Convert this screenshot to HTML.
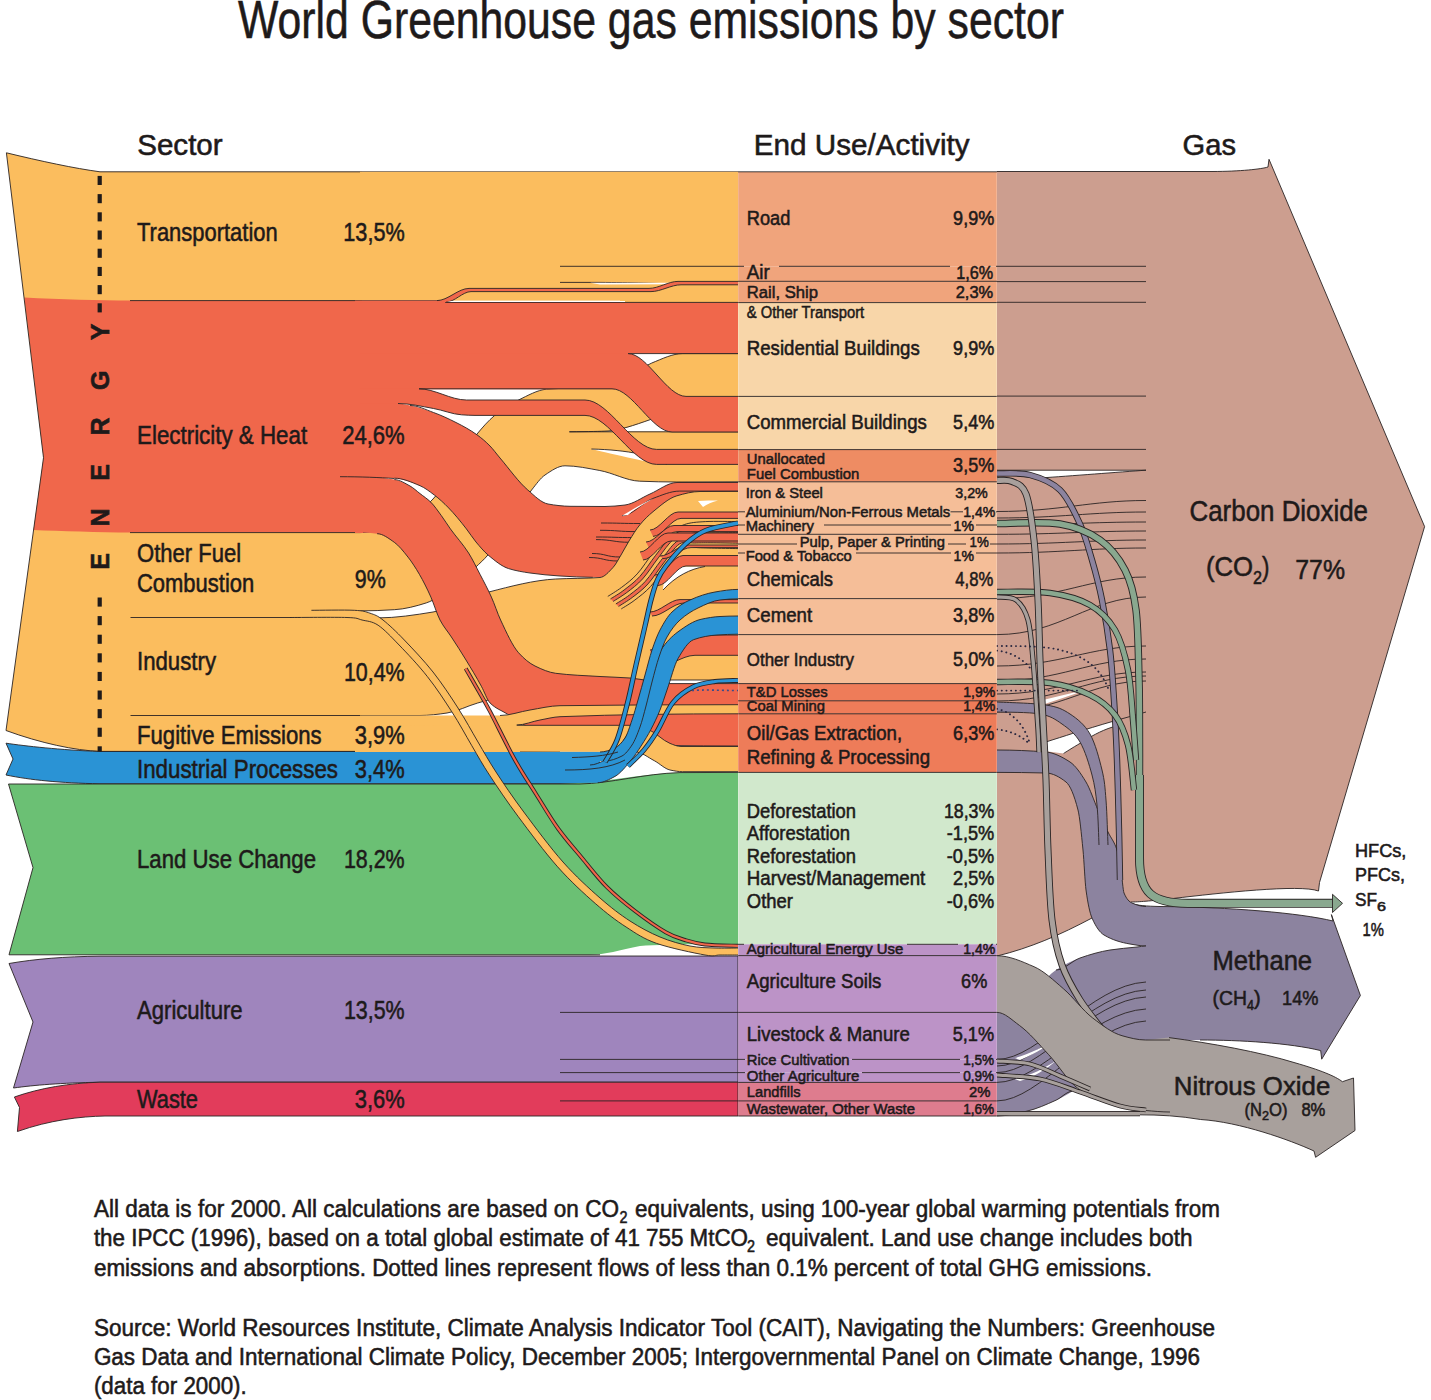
<!DOCTYPE html>
<html><head><meta charset="utf-8"><title>World Greenhouse gas emissions by sector</title>
<style>
html,body{margin:0;padding:0;background:#fff;}
body{width:1431px;height:1400px;overflow:hidden;}
svg{display:block;}
text{font-family:"Liberation Sans",sans-serif;fill:#1e1a1a;stroke:#1e1a1a;stroke-width:0.55px;}
</style></head><body>
<svg width="1431" height="1400" viewBox="0 0 1431 1400">
<rect width="1431" height="1400" fill="#fff"/>
<path d="M997,171.5 L1212,171.5 C1240,171.5 1262,169 1268,167 L1269,159.3 L1424.6,526.6 L1319.5,882.5 L1318.5,891 C1300,884 1220,893 1173,898.5 C1150,901 1138,902 1131,902 L1092,918 C1060,935 1030,948 997,956 Z" fill="#CC9E8F" stroke="#2a2424" stroke-width="0" />
<path d="M997,171.5 L1212,171.5 C1240,171.5 1262,169 1268,167 L1269,159.3 L1424.6,526.6 L1319.5,882.5 L1318.5,891 C1300,884 1220,893 1173,898.5 C1150,901 1138,902 1131,902" fill="none" stroke="#2a2424" stroke-width="0.9" />
<path d="M1092,918 C1060,935 1030,948 997,956" fill="none" stroke="#2a2424" stroke-width="0.9" />
<path d="M1122,896 C1126,903 1132,906 1160,906.5 C1230,907 1300,913 1333,921 L1331.4,914.6 L1360.4,995.5 L1321.7,1059.2 L1320.7,1050.6 C1290,1043 1240,1040 1200,1040 L1146,1040 L1146,946 Z" fill="#8C839F" stroke="#2a2424" stroke-width="0" />
<path d="M1122,896 C1126,903 1132,906 1160,906.5 C1230,907 1300,913 1333,921 L1331.4,914.6 L1360.4,995.5 L1321.7,1059.2 L1320.7,1050.6 C1290,1043 1240,1040 1200,1040" fill="none" stroke="#2a2424" stroke-width="0.9" />
<path d="M1146,1040 L1169,1037.6 C1210,1043 1260,1052 1295,1062.8 C1320,1070 1335,1076 1342.4,1081.7 L1353.5,1078 L1355,1130.5 L1315.6,1157.3 L1314,1151 C1290,1140 1240,1122 1200.6,1119.5 C1180,1116 1160,1114.8 1137.6,1114.8 L1130,1110 Z" fill="#A8A09C" stroke="#2a2424" stroke-width="0" />
<path d="M1169,1037.6 C1210,1043 1260,1052 1295,1062.8 C1320,1070 1335,1076 1342.4,1081.7 L1353.5,1078 L1355,1130.5 L1315.6,1157.3 L1314,1151 C1290,1140 1240,1122 1200.6,1119.5 C1180,1116 1160,1114.8 1137.6,1114.8" fill="none" stroke="#2a2424" stroke-width="0.9" />
<path d="M6.4,152.8 C40,161 75,168.5 100,171.8 L362,171.8 L362,751.4 L100,751.4 C75,750.5 40,743 6,730.5 L43.5,457.7 Z" fill="#FBBD5E" stroke="#2a2424" stroke-width="0" />
<path d="M24.3,297.5 C60,299.5 100,300.5 130,300.6 L362,300.6 L362,532.6 L130,532.6 C100,532.4 60,531 33.5,530 L43.5,457.7 Z" fill="#F0674B" stroke="#2a2424" stroke-width="0" />
<path d="M6,730.5 L43.5,457.7 L6.4,152.8 C40,161 75,168.5 100,171.8 L738,171.8" fill="none" stroke="#2a2424" stroke-width="0.9" />
<path d="M6,730.5 C40,743 75,750.5 100,751.4 L360,751.4" fill="none" stroke="#2a2424" stroke-width="0.9" />
<rect x="360" y="171.8" width="378.2" height="128.8" fill="#FBBD5E"/>
<path d="M130,300.6 L440,300.6" fill="none" stroke="#2a2424" stroke-width="0.9" />
<path d="M560,266.3 L738,266.3" fill="none" stroke="#2a2424" stroke-width="0.9" />
<path d="M560,282.4 L600,282.4 C630,282.6 660,283.5 676,284" fill="none" stroke="#2a2424" stroke-width="0.9" />
<path d="M590,282.7 L672,282.7 L676,284.3 L600,284.6 Z" fill="#fff"/>
<path d="M130,532.6 L360,532.6" fill="none" stroke="#2a2424" stroke-width="0.9" />
<path d="M130.5,617.5 L300,617.5" fill="none" stroke="#2a2424" stroke-width="0.9" />
<path d="M130.5,715.5 L360,715.5" fill="none" stroke="#2a2424" stroke-width="0.9" />
<path d="M6,743.2 C25,746 60,750 100,751.5 L600,751.5 L600,783.8 L100,783.8 C60,783 30,780 6,775 L13,759 Z" fill="#2A93D5" stroke="#2a2424" stroke-width="0" />
<path d="M6,775 L13,759 L6,743.2 C25,746 60,750 100,751.5 L560,751.5" fill="none" stroke="#2a2424" stroke-width="0.9" />
<path d="M6,775 C30,780 60,783 100,783.8 L590,783.8" fill="none" stroke="#2a2424" stroke-width="0.9" />
<path d="M8.5,784 L560,784 C600,783.5 640,774 680,772.6 L738,772.4 L738,944.3 C700,944 660,944 640,946 C620,950 605,954.8 590,954.8 L9,954.8 L33,867.6 Z" fill="#6BC074" stroke="#2a2424" stroke-width="0" />
<path d="M9,954.8 L33,867.6 L8.5,784 L580,784 C610,783.5 645,773.5 680,772.6 L738,772.4" fill="none" stroke="#2a2424" stroke-width="0.9" />
<path d="M9,954.8 L600,954.8" fill="none" stroke="#2a2424" stroke-width="0.9" />
<path d="M9,963.5 C35,959 65,956.5 100,956.2 L738,956 L738,1082.2 L100,1082.2 C60,1083 35,1085 13.5,1088 L33,1022 Z" fill="#9F85BD" stroke="#2a2424" stroke-width="0.9" />
<path d="M560,1012.4 L738,1012.4" fill="none" stroke="#2a2424" stroke-width="0.9" />
<path d="M560,1059.4 L738,1059.4" fill="none" stroke="#2a2424" stroke-width="0.9" />
<path d="M560,1072.6 L738,1072.6" fill="none" stroke="#2a2424" stroke-width="0.9" />
<path d="M14.4,1097 C40,1088 70,1083 100,1082.2 L738,1082.2 L738,1116 L105,1116 C80,1116.5 50,1120 17.4,1131.5 L19.5,1107.5 Z" fill="#E23C5B" stroke="#2a2424" stroke-width="0.9" />
<path d="M560,1100.9 L738,1100.9" fill="none" stroke="#2a2424" stroke-width="0.9" />
<path d="M360,532.6C373.3,532.6 386.7,528.5 400,524C411,520.2 422,510.3 433,499C440.3,491.5 447.7,476.8 455,466C462.3,455.3 469.5,443.1 476.8,434.3C482.7,427.2 488.5,420.5 494.4,415.7C502.5,409.1 510.5,403.9 518.6,400C527.9,395.5 537.1,390.1 546.4,389.2C557.6,388.2 568.8,388.2 580,387.5C591.7,386.8 603.3,386.5 615,385C627.3,383.4 639.5,367.9 651.8,363C662.1,358.9 672.4,353.6 682.7,353.6L738,353.6L738,481.8C717.6,481.8 697.3,482 676.9,482C664.5,482 652.1,481.7 639.7,481.2C626.4,480.7 613.1,472.9 599.8,470.5C588.2,468.4 576.6,465.8 565,465.8C558.3,465.8 551.7,470.5 545,475C540.5,478 536.1,484.4 531.6,490C524.4,499.1 517.2,511.3 510,522C502.7,532.9 495.3,546.3 488,554.9C483.8,559.8 479.6,563.5 475.4,567.4C468.6,573.7 461.8,580 455,585C445.4,592 435.9,599.8 426.3,602.9C415.6,606.3 405,609.1 394.3,609.7C382.9,610.4 371.4,610.9 360,610.9Z" fill="#FBBD5E" stroke="none"/>
<path d="M360,532.6C373.3,532.6 386.7,528.5 400,524C411,520.2 422,510.3 433,499C440.3,491.5 447.7,476.8 455,466C462.3,455.3 469.5,443.1 476.8,434.3C482.7,427.2 488.5,420.5 494.4,415.7C502.5,409.1 510.5,403.9 518.6,400C527.9,395.5 537.1,390.1 546.4,389.2C557.6,388.2 568.8,388.2 580,387.5C591.7,386.8 603.3,386.5 615,385C627.3,383.4 639.5,367.9 651.8,363C662.1,358.9 672.4,353.6 682.7,353.6L738,353.6" fill="none" stroke="#2a2424" stroke-width="0.9" />
<path d="M360,610.9C371.4,610.9 382.9,610.4 394.3,609.7C405,609.1 415.6,606.3 426.3,602.9C435.9,599.8 445.4,592 455,585C461.8,580 468.6,573.7 475.4,567.4C479.6,563.5 483.8,559.8 488,554.9C495.3,546.3 502.7,532.9 510,522C517.2,511.3 524.4,499.1 531.6,490C536.1,484.4 540.5,478 545,475C551.7,470.5 558.3,465.8 565,465.8C576.6,465.8 588.2,468.4 599.8,470.5C613.1,472.9 626.4,480.7 639.7,481.2C652.1,481.7 664.5,482 676.9,482C697.3,482 717.6,481.8 738,481.8" fill="none" stroke="#2a2424" stroke-width="0.9" />
<path d="M600,431.6 C615,431.2 632,427 652,419 L700,419 L700,431.6 Z" fill="#fff"/>
<path d="M569.4,431.8 L738,431.8" fill="none" stroke="#2a2424" stroke-width="0.9" />
<path d="M569.4,431.8 C590,431.6 600,431.4 608,431 C620,430 632,426 652,419" fill="none" stroke="#2a2424" stroke-width="0.9" />
<path d="M591.4,449 C610,449.5 625,451 640,454 C650,456 660,462 667,464.3 C650,463 630,458 591.4,449 Z" fill="#fff"/>
<path d="M591.4,449 C610,449.5 625,451 640,454 C650,456 660,462 667,464.3" fill="none" stroke="#2a2424" stroke-width="0.9" />
<rect x="355" y="300.6" width="90" height="3" fill="#F0674B"/>
<rect x="355" y="302" width="273" height="87.3" fill="#F0674B"/>
<rect x="355" y="388" width="44" height="90" fill="#F0674B"/>
<rect x="355" y="470" width="8" height="63" fill="#F0674B"/>
<path d="M360,403.5L398,403.5C402,403.5 406,404.7 410,405.5C417.8,407.1 425.7,409.7 433.5,412.5C441,415.2 448.5,418.7 456,422.5C463,426 470,429.8 477,434.8C481.3,437.9 485.7,441.6 490,446C493.3,449.4 496.7,454.1 500,458C509.3,468.9 518.5,482.1 527.8,490C534.5,495.8 541.3,502.8 548,504C555.3,505.3 562.7,506.2 570,506.3C581.7,506.4 593.3,506.5 605,506.5C611.7,506.5 618.3,505.8 625,505C633.3,504 641.7,497.6 650,494C659,490.1 668,482.5 677,482.5L738,482.5L738,578L640,578C624.3,578 608.5,577.6 592.8,577.3C581.9,577.1 570.9,576.6 560,576C550,575.4 540,574.4 530,573C522.9,572 515.7,570.8 508.6,568.6C501.7,566.4 494.9,560.7 488,554.9C484,551.5 480,546.8 476,542C472.8,538.1 469.6,533 466.4,528.9C460.5,521.3 454.5,513.9 448.6,507.9C443.8,503 439.1,498.6 434.3,495C429.5,491.4 424.8,487.7 420,485.7C411.4,482.1 402.9,478.9 394.3,478.2C382.9,477.2 371.4,476.6 360,476.6Z" fill="#F0674B" stroke="none"/>
<path d="M410,405.5C417.8,405.5 425.7,409.7 433.5,412.5C441,415.2 448.5,418.7 456,422.5C463,426 470,429.8 477,434.8C481.3,437.9 485.7,441.6 490,446C493.3,449.4 496.7,454.1 500,458C509.3,468.9 518.5,482.1 527.8,490C534.5,495.8 541.3,502.8 548,504C555.3,505.3 562.7,506.2 570,506.3C581.7,506.4 593.3,506.5 605,506.5C611.7,506.5 618.3,505.8 625,505C633.3,504 641.7,497.6 650,494C659,490.1 668,482.5 677,482.5L738,482.5" fill="none" stroke="#2a2424" stroke-width="0.9" />
<path d="M394.3,478.2C402.9,478.2 411.4,482.1 420,485.7C424.8,487.7 429.5,491.4 434.3,495C439.1,498.6 443.8,503 448.6,507.9C454.5,513.9 460.5,521.3 466.4,528.9C469.6,533 472.8,538.1 476,542C480,546.8 484,551.5 488,554.9C494.9,560.7 501.7,566.4 508.6,568.6C515.7,570.8 522.9,572 530,573C540,574.4 550,575.4 560,576C570.9,576.6 581.9,577.3 592.8,577.3" fill="none" stroke="#2a2424" stroke-width="0.9" />
<path d="M622,515.7C632.3,515.7 642.7,502.2 653,498.4C661.8,495.2 670.7,491.1 679.5,491.1L738,491.1" fill="none" stroke="#2a2424" stroke-width="0.9" />
<path d="M622,515.7 C635,508 645,502 653,498.4 C640,506 632,511 628,515 Z" fill="#fff"/>
<path d="M601,523 C620.5,523 620.5,523.5 640,523.5" fill="none" stroke="#2a2424" stroke-width="0.9" />
<path d="M600,530.3 C618.0,530.3 618.0,531.6 636,531.6" fill="none" stroke="#2a2424" stroke-width="0.9" />
<path d="M596,537 C615.0,537 615.0,537.6 634,537.6" fill="none" stroke="#2a2424" stroke-width="0.9" />
<path d="M596,539.6 C613.0,539.6 613.0,542.3 630,542.3" fill="none" stroke="#2a2424" stroke-width="0.9" />
<path d="M592,553.5 C606.0,553.5 606.0,557 620,557" fill="none" stroke="#2a2424" stroke-width="0.9" />
<path d="M589,557.5 C603.5,557.5 603.5,561 618,561" fill="none" stroke="#2a2424" stroke-width="0.9" />
<path d="M360,617.5C366,617.5 372,617.9 378,617.9C396.3,617.9 414.7,615 433,612C451.6,608.9 470.2,596.7 488.8,592C511.1,586.3 533.4,580.2 555.7,579C570.5,578.2 585.2,578.6 600,577.5C604.3,577.2 608.7,572.1 613,567.5C615.7,564.7 618.3,559.4 621,555C623.7,550.6 626.3,545.3 629,541C632.6,535.2 636.1,529.3 639.7,525C644.1,519.6 648.6,515.3 653,511.7C661,505.2 668.9,498.1 676.9,495.8C684.6,493.6 692.3,491.5 700,491.5C712.7,491.4 725.3,491.4 738,491.4L738,680L650,680C633.3,680 616.7,681 600,682C576.7,683.3 553.3,686.3 530,690C512.6,692.8 495.1,698 477.7,703C467.5,705.9 457.2,711.5 447,713C438,714.3 429,715.5 420,715.5L360,715.5Z" fill="#FBBD5E" stroke="none"/>
<path d="M378,617.9C396.3,617.9 414.7,615 433,612C451.6,608.9 470.2,596.7 488.8,592C511.1,586.3 533.4,580.2 555.7,579C570.5,578.2 585.2,578.6 600,577.5C604.3,577.2 608.7,572.1 613,567.5C615.7,564.7 618.3,559.4 621,555C623.7,550.6 626.3,545.3 629,541C632.6,535.2 636.1,529.3 639.7,525C644.1,519.6 648.6,515.3 653,511.7C661,505.2 668.9,498.1 676.9,495.8C684.6,493.6 692.3,491.5 700,491.5C712.7,491.4 725.3,491.4 738,491.4" fill="none" stroke="#2a2424" stroke-width="0.9" />
<path d="M360,715.5L420,715.5C429,715.5 438,714.3 447,713C457.2,711.5 467.5,705.9 477.7,703C495.1,698 512.6,692.8 530,690C553.3,686.3 576.7,683.3 600,682C616.7,681 633.3,680 650,680L738,680" fill="none" stroke="#2a2424" stroke-width="0.9" />
<path d="M610.5,598.9C612.8,597.4 619.2,593.8 624.1,590C629,586.2 634.7,582.2 639.9,576.4C645.2,570.6 650.4,562 655.6,555.4C660.8,548.8 666.1,540.9 671.3,536.5C676.5,532.1 681,530.8 686.9,529.2C692.8,527.6 698,527.3 706.5,526.9C715,526.5 732.8,527 738,527L738,532.4C733,532.4 715.8,532 707.7,532.2C699.6,532.4 695.1,532.7 689.5,533.8C683.9,534.9 679.2,535 674,539C668.8,543 663.5,551.2 658.3,557.9C653.1,564.5 647.9,573.1 642.6,578.9C637.4,584.7 631.7,588.8 626.8,592.5C621.9,596.2 615.5,599.9 613.2,601.4Z" fill="#F0674B"/>
<path d="M615.9,603.9C618.2,602.4 624.6,598.8 629.5,595C634.4,591.2 640.1,587.2 645.3,581.4C650.6,575.6 655.8,567 661,560.4C666.2,553.8 671.5,545.2 676.7,541.5C681.9,537.8 686.7,539.1 692.1,538.4C697.5,537.7 701.2,537.6 708.9,537.5C716.5,537.4 733.1,537.8 738,537.8L738,543.2C733.4,543.1 717.3,542.8 710.1,542.8C702.9,542.8 699.8,542.8 694.7,543C689.6,543.2 684.6,540.7 679.4,544C674.2,547.3 668.9,556.2 663.7,562.9C658.5,569.5 653.2,578.1 648,583.9C642.8,589.7 637.1,593.8 632.2,597.5C627.3,601.2 620.9,604.9 618.6,606.4Z" fill="#F0674B"/>
<path d="M607.8,596.4C610.1,594.9 616.5,591.2 621.4,587.5C626.3,583.8 632,579.7 637.2,573.9C642.5,568.1 647.7,559.5 652.9,552.9C658.1,546.2 663.4,538.7 668.6,534C673.8,529.3 678.2,526.7 684.3,524.6C690.4,522.5 696.3,522.1 705.3,521.6C714.2,521.1 732.5,521.6 738,521.6" fill="none" stroke="#2a2424" stroke-width="0.9" />
<path d="M610.5,598.9C612.8,597.4 619.2,593.8 624.1,590C629,586.2 634.7,582.2 639.9,576.4C645.2,570.6 650.4,562 655.6,555.4C660.8,548.8 666.1,540.9 671.3,536.5C676.5,532.1 681,530.8 686.9,529.2C692.8,527.6 698,527.3 706.5,526.9C715,526.5 732.8,527 738,527" fill="none" stroke="#2a2424" stroke-width="0.9" />
<path d="M613.2,601.4C615.5,599.9 621.9,596.2 626.8,592.5C631.7,588.8 637.4,584.7 642.6,578.9C647.9,573.1 653.1,564.5 658.3,557.9C663.5,551.2 668.8,543 674,539C679.2,535 683.9,534.9 689.5,533.8C695.1,532.7 699.6,532.4 707.7,532.2C715.8,532 733,532.4 738,532.4" fill="none" stroke="#2a2424" stroke-width="0.9" />
<path d="M615.9,603.9C618.2,602.4 624.6,598.8 629.5,595C634.4,591.2 640.1,587.2 645.3,581.4C650.6,575.6 655.8,567 661,560.4C666.2,553.8 671.5,545.2 676.7,541.5C681.9,537.8 686.7,539.1 692.1,538.4C697.5,537.7 701.2,537.6 708.9,537.5C716.5,537.4 733.1,537.8 738,537.8" fill="none" stroke="#2a2424" stroke-width="0.9" />
<path d="M618.6,606.4C620.9,604.9 627.3,601.2 632.2,597.5C637.1,593.8 642.8,589.7 648,583.9C653.2,578.1 658.5,569.5 663.7,562.9C668.9,556.2 674.2,547.3 679.4,544C684.6,540.7 689.6,543.2 694.7,543C699.8,542.8 702.9,542.8 710.1,542.8C717.3,542.8 733.4,543.1 738,543.2" fill="none" stroke="#2a2424" stroke-width="0.9" />
<path d="M621.3,608.9C623.6,607.4 630,603.8 634.9,600C639.8,596.2 645.5,592.2 650.7,586.4C656,580.6 661.2,572 666.4,565.4C671.6,558.8 677,549.5 682.1,546.5C687.2,543.5 692.4,547.3 697.3,547.6C702.2,547.9 704.5,547.9 711.3,548.1C718.1,548.3 733.5,548.5 738,548.6" fill="none" stroke="#2a2424" stroke-width="0.9" />
<path d="M668,566.8 L705,566.5 C690,569 676,576 663,590 C664,580 666,572 668,566.8 Z" fill="#fff"/>
<path d="M705,566.5 C690,569 676,576 663,590" fill="none" stroke="#2a2424" stroke-width="0.9" />
<path d="M698,501 C705,500.5 712,500.5 718,500.5 C712,502 707,504 703,507 Z" fill="#fff"/>
<path d="M650,530C659.3,530 668.7,512 678,512L738,512L738,518.4L681,518.4C671.7,518.4 662.3,536.4 653,536.4Z" fill="#F0674B" stroke="none"/>
<path d="M650,530C659.3,530 668.7,512 678,512L738,512" fill="none" stroke="#2a2424" stroke-width="0.9" />
<path d="M653,536.4C662.3,536.4 671.7,518.4 681,518.4L738,518.4" fill="none" stroke="#2a2424" stroke-width="0.9" />
<path d="M646,542C655.3,542 664.7,525.5 674,525.5L738,525.5L738,531.6L677,531.6C667.7,531.6 658.3,548.1 649,548.1Z" fill="#F0674B" stroke="none"/>
<path d="M646,542C655.3,542 664.7,525.5 674,525.5L738,525.5" fill="none" stroke="#2a2424" stroke-width="0.9" />
<path d="M649,548.1C658.3,548.1 667.7,531.6 677,531.6L738,531.6" fill="none" stroke="#2a2424" stroke-width="0.9" />
<path d="M640,552C649.3,552 658.7,533 668,533L738,533L738,541L671,541C661.7,541 652.3,560 643,560Z" fill="#F0674B" stroke="none"/>
<path d="M640,552C649.3,552 658.7,533 668,533L738,533" fill="none" stroke="#2a2424" stroke-width="0.9" />
<path d="M643,560C652.3,560 661.7,541 671,541L738,541" fill="none" stroke="#2a2424" stroke-width="0.9" />
<path d="M660,556C669.3,556 678.7,545 688,545L738,545L738,547.6L691,547.6C681.7,547.6 672.3,558.6 663,558.6Z" fill="#F0674B" stroke="none"/>
<path d="M660,556C669.3,556 678.7,545 688,545L738,545" fill="none" stroke="#2a2424" stroke-width="0.9" />
<path d="M663,558.6C672.3,558.6 681.7,547.6 691,547.6L738,547.6" fill="none" stroke="#2a2424" stroke-width="0.9" />
<path d="M655,575C664.3,575 673.7,555.5 683,555.5L738,555.5L738,566L686,566C676.7,566 667.3,585.5 658,585.5Z" fill="#F0674B" stroke="none"/>
<path d="M655,575C664.3,575 673.7,555.5 683,555.5L738,555.5" fill="none" stroke="#2a2424" stroke-width="0.9" />
<path d="M658,585.5C667.3,585.5 676.7,566 686,566L738,566" fill="none" stroke="#2a2424" stroke-width="0.9" />
<path d="M650,612C660,612 670,599.6 680,599.6L738,599.6L738,603L684,603C673.3,603 662.7,616 652,616Z" fill="#F0674B" stroke="none"/>
<path d="M650,612C660,612 670,599.6 680,599.6L738,599.6" fill="none" stroke="#2a2424" stroke-width="0.9" />
<path d="M652,616C662.7,616 673.3,603 684,603L738,603" fill="none" stroke="#2a2424" stroke-width="0.9" />
<path d="M650,650C663.3,650 676.7,635 690,635L738,635L738,655.3L695,655.3C681.7,655.3 668.3,668 655,668Z" fill="#F0674B" stroke="none"/>
<path d="M650,650C663.3,650 676.7,635 690,635L738,635" fill="none" stroke="#2a2424" stroke-width="0.9" />
<path d="M655,668C668.3,668 681.7,655.3 695,655.3L738,655.3" fill="none" stroke="#2a2424" stroke-width="0.9" />
<path d="M360,476.6C371.4,476.6 382.9,477.8 394.3,479.6C399.5,480.4 404.8,483.2 410,486C413.3,487.8 416.7,491 420,493.6C423.6,496.4 427.1,498.6 430.7,502.1C434.3,505.6 437.8,510.8 441.4,515.7C444.4,519.8 447.4,524.7 450.4,528.9C456.5,537.4 462.5,543.5 468.6,553C472.4,559 476.2,567 480,574.3C483.8,581.6 487.6,588.6 491.4,597.1C494.5,603.9 497.5,613.4 500.6,620C506.6,632.8 512.6,646.1 518.6,652.8C524.1,658.9 529.5,663.3 535,666C541.9,669.4 548.8,672.4 555.7,673.3C570.5,675.2 585.2,675.6 600,676.5C610,677.1 620,677.3 630,678C643.3,679 656.7,683.6 670,683.6L738,683.6L738,746C692,746 646,745.4 600,744C586.7,743.6 573.3,740.8 560,738C550,735.9 540,732.4 530,728C522.5,724.7 514.9,718.8 507.4,714.1C501.6,710.4 495.8,708.8 490,702.9C487.1,700 484.3,691.5 481.4,686.3C476.3,676.9 471.1,668.4 466,660C461.1,652 456.3,644.4 451.4,637C447.6,631.2 443.8,627.2 440,620C437,614.3 433.9,603.9 430.9,597.1C427.1,588.6 423.2,580.9 419.4,574.3C415.6,567.8 411.8,561.9 408,557.1C403.4,551.3 398.9,545.5 394.3,542.3C388.6,538.3 382.8,534.4 377.1,533.7C371.4,533.1 365.7,532.6 360,532.6Z" fill="#F0674B" stroke="none"/>
<path d="M394.3,479.6C399.5,479.6 404.8,483.2 410,486C413.3,487.8 416.7,491 420,493.6C423.6,496.4 427.1,498.6 430.7,502.1C434.3,505.6 437.8,510.8 441.4,515.7C444.4,519.8 447.4,524.7 450.4,528.9C456.5,537.4 462.5,543.5 468.6,553C472.4,559 476.2,567 480,574.3C483.8,581.6 487.6,588.6 491.4,597.1C494.5,603.9 497.5,613.4 500.6,620C506.6,632.8 512.6,646.1 518.6,652.8C524.1,658.9 529.5,663.3 535,666C541.9,669.4 548.8,672.4 555.7,673.3C570.5,675.2 585.2,675.6 600,676.5C610,677.1 620,677.3 630,678C643.3,679 656.7,683.6 670,683.6L738,683.6" fill="none" stroke="#2a2424" stroke-width="0.9" />
<path d="M377.1,533.7C382.8,533.7 388.6,538.3 394.3,542.3C398.9,545.5 403.4,551.3 408,557.1C411.8,561.9 415.6,567.8 419.4,574.3C423.2,580.9 427.1,588.6 430.9,597.1C433.9,603.9 437,614.3 440,620C443.8,627.2 447.6,631.2 451.4,637C456.3,644.4 461.1,652 466,660C471.1,668.4 476.3,676.9 481.4,686.3C484.3,691.5 487.1,700 490,702.9C495.8,708.8 501.6,710.4 507.4,714.1C514.9,718.8 522.5,724.7 530,728C540,732.4 550,735.9 560,738C573.3,740.8 586.7,743.6 600,744C646,745.4 692,746 738,746" fill="none" stroke="#2a2424" stroke-width="0.9" />
<rect x="620" y="300" width="118" height="3" fill="#FBBD5E"/>
<path d="M360,302.6L738,302.6L738,353.6L360,353.6Z" fill="#F0674B" stroke="none"/>
<path d="M445,302.4 L738,302.4" fill="none" stroke="#2a2424" stroke-width="0.9" />
<path d="M628,353.6 L738,353.6" fill="none" stroke="#2a2424" stroke-width="0.9" />
<path d="M360,353.6L628,353.6C647.3,353.6 666.7,396.4 686,396.4L738,396.4L738,432L672,432C652,432 632,388.8 612,388.8L360,388.8Z" fill="#F0674B" stroke="none"/>
<path d="M628,353.6C647.3,353.6 666.7,396.4 686,396.4L738,396.4" fill="none" stroke="#2a2424" stroke-width="0.9" />
<path d="M612,388.8C632,388.8 652,432 672,432L738,432" fill="none" stroke="#2a2424" stroke-width="0.9" />
<path d="M360,388.8L419,388.8C434.8,388.8 450.7,400 466.5,400L585,400C608.9,400 632.7,449.4 656.6,449.4L738,449.4L738,464.4L656.6,464.4C632.7,464.4 608.9,415.4 585,415.4L475,415.4C470.5,415.4 466,415.1 461.5,414.8C452.2,414.2 442.8,410.1 433.5,408.5C421.7,406.4 409.8,403.5 398,403.5L360,403.5Z" fill="#F0674B" stroke="none"/>
<path d="M419,388.8C434.8,388.8 450.7,400 466.5,400L585,400C608.9,400 632.7,449.4 656.6,449.4L738,449.4" fill="none" stroke="#2a2424" stroke-width="0.9" />
<path d="M398,403.5C409.8,403.5 421.7,406.4 433.5,408.5C442.8,410.1 452.2,414.2 461.5,414.8C466,415.1 470.5,415.4 475,415.4L585,415.4C608.9,415.4 632.7,464.4 656.6,464.4L738,464.4" fill="none" stroke="#2a2424" stroke-width="0.9" />
<path d="M419,388.8 L612,388.8" fill="none" stroke="#2a2424" stroke-width="0.9" />
<path d="M437,300.6C447.7,300.6 458.3,288.4 469,288.4L649,288.4C658.7,288.4 668.3,281.4 678,281.4L738,281.4L738,284.8L681,284.8C671,284.8 661,291.6 651,291.6L471,291.6C462.7,291.6 454.3,302.2 446,302.2Z" fill="#F0674B" stroke="none"/>
<path d="M437,300.6C447.7,300.6 458.3,288.4 469,288.4L649,288.4C658.7,288.4 668.3,281.4 678,281.4L738,281.4" fill="none" stroke="#2a2424" stroke-width="0.9" />
<path d="M446,302.2C454.3,302.2 462.7,291.6 471,291.6L651,291.6C661,291.6 671,284.8 681,284.8L738,284.8" fill="none" stroke="#2a2424" stroke-width="0.9" />
<path d="M447,300.9 L625,300.9 L625,301.9 L452,301.9 Z" fill="#fff"/>
<path d="M340,476.7 C360,476.7 380,477.5 394.3,478.5" fill="none" stroke="#2a2424" stroke-width="0.9" />
<rect x="355" y="716.5" width="165" height="35.5" fill="#FBBD5E"/>
<path d="M360,715.5L500,715.5C510,715.5 520,711.6 530,710C540,708.4 550,705.8 560,705.7C619.3,704.9 678.7,704.7 738,704.7L738,713.8C678.7,713.8 619.3,714.4 560,716.7C553.3,717 546.7,718.8 540,720C532.2,721.4 524.5,725 516.7,725L360,725Z" fill="#FBBD5E" stroke="none"/>
<path d="M500,715.5C510,715.5 520,711.6 530,710C540,708.4 550,705.8 560,705.7C619.3,704.9 678.7,704.7 738,704.7" fill="none" stroke="#2a2424" stroke-width="0.9" />
<path d="M516.7,725C524.5,725 532.2,721.4 540,720C546.7,718.8 553.3,717 560,716.7C619.3,714.4 678.7,713.8 738,713.8" fill="none" stroke="#2a2424" stroke-width="0.9" />
<path d="M360,725C412.2,725 464.5,725.3 516.7,725.3L633.8,725.3C638.5,725.3 643.3,727.5 648,729.3C655.3,732.1 662.7,740.6 670,743.4C673.7,744.8 677.3,746.5 681,746.5L738,746.5L738,771.7L682.5,771.7C678.3,771.7 674.2,770.9 670,770C664.8,768.9 659.5,763.4 654.3,760.7C648,757.4 641.7,752 635.4,752C543.6,751.4 451.8,751.4 360,751.4Z" fill="#FBBD5E" stroke="none"/>
<path d="M516.7,725.3L633.8,725.3C638.5,725.3 643.3,727.5 648,729.3C655.3,732.1 662.7,740.6 670,743.4C673.7,744.8 677.3,746.5 681,746.5L738,746.5" fill="none" stroke="#2a2424" stroke-width="0.9" />
<path d="M635.4,752C641.7,752 648,757.4 654.3,760.7C659.5,763.4 664.8,768.9 670,770C674.2,770.9 678.3,771.7 682.5,771.7L738,771.7" fill="none" stroke="#2a2424" stroke-width="0.9" />
<path d="M560,765L590,765C595,765 600,762.5 605,760C609.3,757.9 613.7,753 618,748C621.3,744.2 624.7,738.9 628,733C630.7,728.3 633.3,722.4 636,716C638.3,710.4 640.7,703.5 643,697C645.3,690.5 647.7,683.3 650,677C653.5,667.6 657,656.2 660.5,650.7C666.3,641.6 672.2,636.1 678,631.8C685.7,626.2 693.3,621 701,619.3C707.3,617.9 713.7,616.8 720,616.5C726,616.2 732,616 738,616L738,634.2C731,634.2 724,634.6 717,635C709.2,635.5 701.3,636.9 693.5,639.7C688.3,641.6 683.2,649.6 678,658.6C674.3,665 670.7,679.5 667,690C664.7,696.7 662.3,704.2 660,710C657,717.4 654,723.6 651,729.3C647.9,735.2 644.8,740.2 641.7,745C638,750.7 634.4,756.3 630.7,760.7C625.5,766.9 620.2,773.6 615,776.4C609.2,779.5 603.5,782.7 597.7,782.7L560,782.7Z" fill="#2A93D5" stroke="none"/>
<path d="M590,765C595,765 600,762.5 605,760C609.3,757.9 613.7,753 618,748C621.3,744.2 624.7,738.9 628,733C630.7,728.3 633.3,722.4 636,716C638.3,710.4 640.7,703.5 643,697C645.3,690.5 647.7,683.3 650,677C653.5,667.6 657,656.2 660.5,650.7C666.3,641.6 672.2,636.1 678,631.8C685.7,626.2 693.3,621 701,619.3C707.3,617.9 713.7,616.8 720,616.5C726,616.2 732,616 738,616" fill="none" stroke="#2a2424" stroke-width="0.9" />
<path d="M597.7,782.7C603.5,782.7 609.2,779.5 615,776.4C620.2,773.6 625.5,766.9 630.7,760.7C634.4,756.3 638,750.7 641.7,745C644.8,740.2 647.9,735.2 651,729.3C654,723.6 657,717.4 660,710C662.3,704.2 664.7,696.7 667,690C670.7,679.5 674.3,665 678,658.6C683.2,649.6 688.3,641.6 693.5,639.7C701.3,636.9 709.2,635.5 717,635C724,634.6 731,634.2 738,634.2" fill="none" stroke="#2a2424" stroke-width="0.9" />
<path d="M560,752L600,752C605,752 610,750.2 615,748C618.3,746.5 621.7,742.9 625,738C627.3,734.6 629.7,726.8 632,720C634,714.2 636,706.9 638,700C640.3,692 642.7,683.3 645,675C647.3,666.7 649.7,656.9 652,650C654.7,642.1 657.3,635.1 660,630C664,622.4 668,615.8 672,612C678,606.3 684,602.6 690,600C698.3,596.3 706.7,593.4 715,592C722.7,590.7 730.3,589.4 738,589.4L738,598.8C732,598.8 726,599.3 720,600C712.7,600.8 705.3,604.5 698,608C692,610.9 686,614.6 680,620C675.7,623.9 671.3,629.4 667,637C664.3,641.7 661.7,649.1 659,657C656.7,663.9 654.3,673.2 652,682C650,689.6 648,698.5 646,706C644,713.5 642,721.5 640,727C637.3,734.4 634.7,741 632,745C628.7,750 625.3,754.4 622,756C616.3,758.8 610.7,761 605,761L560,761Z" fill="#2A93D5" stroke="none"/>
<path d="M600,752C605,752 610,750.2 615,748C618.3,746.5 621.7,742.9 625,738C627.3,734.6 629.7,726.8 632,720C634,714.2 636,706.9 638,700C640.3,692 642.7,683.3 645,675C647.3,666.7 649.7,656.9 652,650C654.7,642.1 657.3,635.1 660,630C664,622.4 668,615.8 672,612C678,606.3 684,602.6 690,600C698.3,596.3 706.7,593.4 715,592C722.7,590.7 730.3,589.4 738,589.4" fill="none" stroke="#2a2424" stroke-width="0.9" />
<path d="M605,761C610.7,761 616.3,758.8 622,756C625.3,754.4 628.7,750 632,745C634.7,741 637.3,734.4 640,727C642,721.5 644,713.5 646,706C648,698.5 650,689.6 652,682C654.3,673.2 656.7,663.9 659,657C661.7,649.1 664.3,641.7 667,637C671.3,629.4 675.7,623.9 680,620C686,614.6 692,610.9 698,608C705.3,604.5 712.7,600.8 720,600C726,599.3 732,598.8 738,598.8" fill="none" stroke="#2a2424" stroke-width="0.9" />
<path d="M605,762C607,758.3 613.2,749.9 617,740C620.8,730.1 624.4,715 627.6,702.5C630.8,690 633.1,677.6 636,665C638.9,652.4 642.3,637.8 644.8,627C647.3,616.2 648.9,607.8 651,600C653.1,592.2 654.9,585.7 657.4,580C659.9,574.3 661.2,572.1 666,566C670.8,559.9 679.3,549.6 686,543.6C692.7,537.6 697.3,533.7 706,530.3C714.7,526.9 732.7,524.2 738,523" fill="none" stroke="#2a2424" stroke-width="5.2" />
<path d="M605,762C607,758.3 613.2,749.9 617,740C620.8,730.1 624.4,715 627.6,702.5C630.8,690 633.1,677.6 636,665C638.9,652.4 642.3,637.8 644.8,627C647.3,616.2 648.9,607.8 651,600C653.1,592.2 654.9,585.7 657.4,580C659.9,574.3 661.2,572.1 666,566C670.8,559.9 679.3,549.6 686,543.6C692.7,537.6 697.3,533.7 706,530.3C714.7,526.9 732.7,524.2 738,523" fill="none" stroke="#2A93D5" stroke-width="3.4" />
<path d="M628,766C630.7,763.3 639.1,755.9 644,750C648.9,744.1 652.6,738.7 657.4,730.8C662.2,722.9 667,709.8 673,702.5C679,695.2 686.5,690.3 693.5,686.8C700.5,683.3 707.6,682.6 715,681.5C722.4,680.4 734.2,680.6 738,680.4" fill="none" stroke="#2a2424" stroke-width="5" />
<path d="M628,766C630.7,763.3 639.1,755.9 644,750C648.9,744.1 652.6,738.7 657.4,730.8C662.2,722.9 667,709.8 673,702.5C679,695.2 686.5,690.3 693.5,686.8C700.5,683.3 707.6,682.6 715,681.5C722.4,680.4 734.2,680.6 738,680.4" fill="none" stroke="#2A93D5" stroke-width="3.2" />
<path d="M692,690.5 C705,689.5 720,690.5 738,690.5" fill="none" stroke="#3a4a8a" stroke-width="1.6" stroke-dasharray="2,3"/>
<path d="M572,757.5 C590,757 605,756 618,752" fill="none" stroke="#2a2424" stroke-width="0.9" />
<path d="M565,770 C590,770 610,768 625,760" fill="none" stroke="#2a2424" stroke-width="0.9" />
<path d="M311.4,610.3C318.5,610.3 344.5,609.8 354.3,610.3C364.1,610.8 365.2,611.6 370,613.2C374.8,614.8 377.3,615.5 383,620C388.7,624.5 396,631.3 404.3,640C412.6,648.7 424.1,660.7 433,672C441.9,683.3 450.5,696.3 458,708C465.5,719.7 471.7,731.3 478,742C484.3,752.7 488.4,760.3 496,772C503.6,783.7 512.6,797 523.8,812C535,827 550.3,847.7 563,862C575.7,876.3 588.8,888.2 600,898C611.2,907.8 620,914.5 630,921C640,927.5 650,932.8 660,937C670,941.2 680.8,944.2 690,946C699.2,947.8 707,947.7 715,948C723,948.3 734.2,948 738,948L738,955C735,955 725.5,955 720,955C714.5,955 715.6,956.9 705,955C694.4,953.1 669.8,948 656.6,943.4C643.5,938.7 636.3,933.7 626.1,927C615.8,920.4 606.7,913.4 595.2,903.4C583.8,893.4 570.5,881.3 557.6,866.8C544.7,852.3 529.3,831.4 518,816.3C506.8,801.2 497.7,787.7 490,775.9C482.3,764.2 478.1,756.4 471.8,745.7C465.5,735 459.4,723.4 451.9,711.9C444.5,700.4 436.2,687.6 427.3,676.5C418.5,665.3 407.3,653.5 399.1,645C390.9,636.5 384.3,629.4 378.1,625.2C371.9,621.1 367.2,621.3 362,620C356.8,618.7 359,617.9 347,617.5C335,617.1 299.5,617.5 290,617.5Z" fill="#FBBD5E" stroke="none"/>
<path d="M311.4,610.3C318.5,610.3 344.5,609.8 354.3,610.3C364.1,610.8 365.2,611.6 370,613.2C374.8,614.8 377.3,615.5 383,620C388.7,624.5 396,631.3 404.3,640C412.6,648.7 424.1,660.7 433,672C441.9,683.3 450.5,696.3 458,708C465.5,719.7 471.7,731.3 478,742C484.3,752.7 488.4,760.3 496,772C503.6,783.7 512.6,797 523.8,812C535,827 550.3,847.7 563,862C575.7,876.3 588.8,888.2 600,898C611.2,907.8 620,914.5 630,921C640,927.5 650,932.8 660,937C670,941.2 680.8,944.2 690,946C699.2,947.8 707,947.7 715,948C723,948.3 734.2,948 738,948" fill="none" stroke="#2a2424" stroke-width="0.9" />
<path d="M290,617.5C299.5,617.5 335,617.1 347,617.5C359,617.9 356.8,618.7 362,620C367.2,621.3 371.9,621.1 378.1,625.2C384.3,629.4 390.9,636.5 399.1,645C407.3,653.5 418.5,665.3 427.3,676.5C436.2,687.6 444.5,700.4 451.9,711.9C459.4,723.4 465.5,735 471.8,745.7C478.1,756.4 482.3,764.2 490,775.9C497.7,787.7 506.8,801.2 518,816.3C529.3,831.4 544.7,852.3 557.6,866.8C570.5,881.3 583.8,893.4 595.2,903.4C606.7,913.4 615.8,920.4 626.1,927C636.3,933.7 643.5,938.7 656.6,943.4C669.8,948 694.4,953.1 705,955C715.6,956.9 714.5,955 720,955C725.5,955 735,955 738,955" fill="none" stroke="#2a2424" stroke-width="0.9" />
<path d="M465.7,668.6C467.8,672.2 473.9,682.9 478,690C482.1,697.1 483.8,699.7 490,711.4C496.2,723.1 507.3,746.2 515,760C522.7,773.8 528.8,782.6 536,794C543.2,805.4 550.3,817.8 558,828.5C565.7,839.2 573.8,848.2 582,858C590.2,867.8 598.2,878.4 607,887.2C615.8,896 625.2,903.5 635,911C644.8,918.5 657.4,927.4 665.7,932.2C674,937 678.5,938 685,940C691.5,942 696,943.5 704.8,944.5C713.6,945.5 732.5,945.6 738,945.8" fill="none" stroke="#2a2424" stroke-width="4" />
<path d="M465.7,668.6C467.8,672.2 473.9,682.9 478,690C482.1,697.1 483.8,699.7 490,711.4C496.2,723.1 507.3,746.2 515,760C522.7,773.8 528.8,782.6 536,794C543.2,805.4 550.3,817.8 558,828.5C565.7,839.2 573.8,848.2 582,858C590.2,867.8 598.2,878.4 607,887.2C615.8,896 625.2,903.5 635,911C644.8,918.5 657.4,927.4 665.7,932.2C674,937 678.5,938 685,940C691.5,942 696,943.5 704.8,944.5C713.6,945.5 732.5,945.6 738,945.8" fill="none" stroke="#F0674B" stroke-width="2.2" />
<path d="M997,266.3 L1146,266.3" fill="none" stroke="#2a2424" stroke-width="0.9" />
<path d="M997,281.6 L1146,281.6" fill="none" stroke="#2a2424" stroke-width="0.9" />
<path d="M997,302.3 L1146,302.3" fill="none" stroke="#2a2424" stroke-width="0.9" />
<path d="M997,396.1 L1146,396.1" fill="none" stroke="#2a2424" stroke-width="0.9" />
<path d="M997,449.4 L1146,449.4" fill="none" stroke="#2a2424" stroke-width="0.9" />
<path d="M1020,470.2 L1146,470.2 C1120,472 1070,476 1040,478 Z" fill="#fff"/>
<path d="M997,470.2 L1146,470.2" fill="none" stroke="#2a2424" stroke-width="0.9" />
<path d="M1040,478 C1070,476 1120,472 1146,470.2" fill="none" stroke="#2a2424" stroke-width="0.9" />
<path d="M997,511.5 C1060,511.5 1090,500.5 1146,500.5" fill="none" stroke="#2a2424" stroke-width="0.9" />
<path d="M997,518 C1060,518 1090,512 1146,512" fill="none" stroke="#2a2424" stroke-width="0.9" />
<path d="M997,525 C1060,525 1090,522 1146,522" fill="none" stroke="#2a2424" stroke-width="0.9" />
<path d="M997,534.3 C1060,534.3 1090,531 1146,531" fill="none" stroke="#2a2424" stroke-width="0.9" />
<path d="M997,544 C1060,544 1090,540 1146,540" fill="none" stroke="#2a2424" stroke-width="0.9" />
<path d="M997,553 C1060,553 1090,548 1146,548" fill="none" stroke="#2a2424" stroke-width="0.9" />
<path d="M997,598.6 C1060,598.6 1090,577 1146,577" fill="none" stroke="#2a2424" stroke-width="0.9" />
<path d="M997,634.6 C1060,634.6 1090,597 1146,597" fill="none" stroke="#2a2424" stroke-width="0.9" />
<path d="M997,666 C1060,666 1090,646 1146,646" fill="none" stroke="#2a2424" stroke-width="0.9" />
<path d="M997,681 C1060,681 1090,659 1146,659" fill="none" stroke="#2a2424" stroke-width="0.9" />
<path d="M997,694 C1060,694 1090,672 1146,672" fill="none" stroke="#2a2424" stroke-width="0.9" />
<path d="M997,701 C1060,701 1090,676 1146,676" fill="none" stroke="#2a2424" stroke-width="0.9" />
<path d="M997,712 C1060,712 1090,681 1146,681" fill="none" stroke="#2a2424" stroke-width="0.9" />
<path d="M1044,699.7 C1055,697 1066,694.5 1077.3,691.7 L1079.6,692.3 C1068,696 1056,700.5 1044,704.3 Z" fill="#fff"/>
<path d="M1044,742.6 C1055,739 1065,736 1072.7,733.4 C1085,729.7 1100,725 1112.7,721.4 L1112.7,727 C1100,731 1090,737 1080.7,743 C1072,748 1066,752 1063.6,753.4 L1044,751 Z" fill="#fff"/>
<path d="M1044,742.6 C1055,739 1065,736 1072.7,733.4 C1085,729.7 1100,725 1112.7,721.4 L1146,712" fill="none" stroke="#2a2424" stroke-width="0.9" />
<path d="M1063.6,753.4 C1066,752 1072,748 1080.7,743 C1090,737 1100,731 1112.7,727" fill="none" stroke="#2a2424" stroke-width="0.9" />
<path d="M997,750C1013.3,750 1029.7,750.7 1046,752C1054,752.7 1062,756.8 1070,762C1075.3,765.4 1080.7,773.2 1086,782C1090,788.6 1094,800.9 1098,810C1101.3,817.5 1104.7,825 1108,832C1111,838.3 1114,840.9 1117,850C1118.3,854 1119.7,861.8 1121,870C1122,876.1 1123,890.6 1124,893C1126.7,899.4 1129.3,901.8 1132,903C1136.7,905.1 1141.3,906.5 1146,906.5L1146,946C1140.7,946 1135.3,944.9 1130,944C1121.3,942.5 1112.7,940.2 1104,935C1100,932.6 1096,927.2 1092,918C1090,913.4 1088,904.6 1086,890C1085,882.7 1084,860.2 1083,850C1081.3,833 1079.7,816.5 1078,810C1074,794.4 1070,785.2 1066,782C1059.3,776.7 1052.7,773.2 1046,773C1029.7,772.6 1013.3,772.4 997,772.4Z" fill="#8C839F" stroke="none"/>
<path d="M997,750C1013.3,750 1029.7,750.7 1046,752C1054,752.7 1062,756.8 1070,762C1075.3,765.4 1080.7,773.2 1086,782C1090,788.6 1094,800.9 1098,810C1101.3,817.5 1104.7,825 1108,832C1111,838.3 1114,840.9 1117,850C1118.3,854 1119.7,861.8 1121,870C1122,876.1 1123,890.6 1124,893C1126.7,899.4 1129.3,901.8 1132,903C1136.7,905.1 1141.3,906.5 1146,906.5" fill="none" stroke="#2a2424" stroke-width="0.9" />
<path d="M997,772.4C1013.3,772.4 1029.7,772.6 1046,773C1052.7,773.2 1059.3,776.7 1066,782C1070,785.2 1074,794.4 1078,810C1079.7,816.5 1081.3,833 1083,850C1084,860.2 1085,882.7 1086,890C1088,904.6 1090,913.4 1092,918C1096,927.2 1100,932.6 1104,935C1112.7,940.2 1121.3,942.5 1130,944C1135.3,944.9 1140.7,946 1146,946" fill="none" stroke="#2a2424" stroke-width="0.9" />
<path d="M997,702C1005.2,702.5 1033.8,703 1046,705C1058.2,707 1062.7,709.2 1070,714C1077.3,718.8 1084.7,724.7 1090,734C1095.3,743.3 1099.3,759 1102,770C1104.7,781 1105,787.5 1106,800C1107,812.5 1107.7,837.5 1108,845L1099,845C1098.7,838.3 1098.2,816.7 1097,805C1095.8,793.3 1094.8,785.5 1092,775C1089.2,764.5 1085,750.5 1080,742C1075,733.5 1068.7,728.7 1062,724C1055.3,719.3 1050.8,716 1040,714C1029.2,712 1004.2,712.3 997,712Z" fill="#8C839F" stroke="none"/>
<path d="M997,702C1005.2,702.5 1033.8,703 1046,705C1058.2,707 1062.7,709.2 1070,714C1077.3,718.8 1084.7,724.7 1090,734C1095.3,743.3 1099.3,759 1102,770C1104.7,781 1105,787.5 1106,800C1107,812.5 1107.7,837.5 1108,845" fill="none" stroke="#2a2424" stroke-width="0.9" />
<path d="M997,712C1004.2,712.3 1029.2,712 1040,714C1050.8,716 1055.3,719.3 1062,724C1068.7,728.7 1075,733.5 1080,742C1085,750.5 1089.2,764.5 1092,775C1094.8,785.5 1095.8,793.3 1097,805C1098.2,816.7 1098.7,838.3 1099,845" fill="none" stroke="#2a2424" stroke-width="0.9" />
<path d="M997,473.5C1002.5,473.8 1019.5,472.2 1030,475C1040.5,477.8 1051.7,481.8 1060,490C1068.3,498.2 1074.7,512.3 1080,524C1085.3,535.7 1088.3,547.3 1092,560C1095.7,572.7 1099,585 1102,600C1105,615 1108,633.3 1110,650C1112,666.7 1112.8,681.7 1114,700C1115.2,718.3 1116.2,738.3 1117,760C1117.8,781.7 1118.5,810 1119,830C1119.5,850 1119.8,871.7 1120,880" fill="none" stroke="#2a2424" stroke-width="6.4" />
<path d="M997,473.5C1002.5,473.8 1019.5,472.2 1030,475C1040.5,477.8 1051.7,481.8 1060,490C1068.3,498.2 1074.7,512.3 1080,524C1085.3,535.7 1088.3,547.3 1092,560C1095.7,572.7 1099,585 1102,600C1105,615 1108,633.3 1110,650C1112,666.7 1112.8,681.7 1114,700C1115.2,718.3 1116.2,738.3 1117,760C1117.8,781.7 1118.5,810 1119,830C1119.5,850 1119.8,871.7 1120,880" fill="none" stroke="#8C839F" stroke-width="4.6" />
<path d="M997,523.5C1007.5,523.6 1042.8,521.2 1060,524C1077.2,526.8 1089.2,532.3 1100,540C1110.8,547.7 1119,558.3 1125,570C1131,581.7 1133.7,591.7 1136,610C1138.3,628.3 1138.4,658.3 1139,680C1139.6,701.7 1139.4,721.7 1139.5,740C1139.6,758.3 1139.5,781.7 1139.5,790" fill="none" stroke="#2a2424" stroke-width="7.4" />
<path d="M997,523.5C1007.5,523.6 1042.8,521.2 1060,524C1077.2,526.8 1089.2,532.3 1100,540C1110.8,547.7 1119,558.3 1125,570C1131,581.7 1133.7,591.7 1136,610C1138.3,628.3 1138.4,658.3 1139,680C1139.6,701.7 1139.4,721.7 1139.5,740C1139.6,758.3 1139.5,781.7 1139.5,790" fill="none" stroke="#89A88F" stroke-width="5.6" />
<path d="M1139.5,775 L1139.5,858 C1139.5,893 1152,903.3 1188,903.3 L1333,903.3" fill="none" stroke="#2a2424" stroke-width="9"/>
<path d="M1139.5,775 L1139.5,858 C1139.5,893 1152,903.3 1188,903.3 L1333,903.3" fill="none" stroke="#89A88F" stroke-width="7.2"/>
<path d="M1332.5,894.3 L1342.5,903.3 L1332.5,912.5 Z" fill="#89A88F" stroke="#2a2424" stroke-width="0.9" />
<path d="M997,592C1005.8,592.2 1034.5,590.8 1050,593C1065.5,595.2 1079.2,598.8 1090,605C1100.8,611.2 1108.7,619.2 1115,630C1121.3,640.8 1125,655 1128,670C1131,685 1131.7,705 1133,720C1134.3,735 1135.5,753.3 1136,760" fill="none" stroke="#2a2424" stroke-width="6.4" />
<path d="M997,592C1005.8,592.2 1034.5,590.8 1050,593C1065.5,595.2 1079.2,598.8 1090,605C1100.8,611.2 1108.7,619.2 1115,630C1121.3,640.8 1125,655 1128,670C1131,685 1131.7,705 1133,720C1134.3,735 1135.5,753.3 1136,760" fill="none" stroke="#89A88F" stroke-width="4.6" />
<path d="M997,682C1005.8,682.2 1034.5,680.8 1050,683C1065.5,685.2 1079.2,689.7 1090,695C1100.8,700.3 1108.7,706.7 1115,715C1121.3,723.3 1124.8,732.5 1128,745C1131.2,757.5 1133,782.5 1134,790" fill="none" stroke="#2a2424" stroke-width="6.4" />
<path d="M997,682C1005.8,682.2 1034.5,680.8 1050,683C1065.5,685.2 1079.2,689.7 1090,695C1100.8,700.3 1108.7,706.7 1115,715C1121.3,723.3 1124.8,732.5 1128,745C1131.2,757.5 1133,782.5 1134,790" fill="none" stroke="#89A88F" stroke-width="4.6" />
<path d="M997,597C1000.2,597.5 1010.8,596.2 1016,600C1021.2,603.8 1025.2,610 1028,620C1030.8,630 1031.7,646.7 1033,660C1034.3,673.3 1035.2,688.3 1036,700C1036.8,711.7 1037.5,721.3 1038,730C1038.5,738.7 1038.8,748.3 1039,752" fill="none" stroke="#2a2424" stroke-width="5.2" />
<path d="M997,597C1000.2,597.5 1010.8,596.2 1016,600C1021.2,603.8 1025.2,610 1028,620C1030.8,630 1031.7,646.7 1033,660C1034.3,673.3 1035.2,688.3 1036,700C1036.8,711.7 1037.5,721.3 1038,730C1038.5,738.7 1038.8,748.3 1039,752" fill="none" stroke="#A8A09C" stroke-width="3.4" />
<path d="M997,646 C1030,646 1046,646.5 1060,650 C1085,656 1100,668 1108,688" fill="none" stroke="#2a2840" stroke-width="1.9" stroke-dasharray="0.1,4.6" stroke-linecap="round"/>
<path d="M997,650.6 C1010,652 1022,658 1030,668" fill="none" stroke="#2a2840" stroke-width="1.9" stroke-dasharray="0.1,4.6" stroke-linecap="round"/>
<path d="M997,690.6 L1078,690.6" fill="none" stroke="#2a2840" stroke-width="1.9" stroke-dasharray="0.1,4.6" stroke-linecap="round"/>
<path d="M997,708.9 C1012,712 1024,724 1030,744" fill="none" stroke="#2a2840" stroke-width="1.9" stroke-dasharray="0.1,4.6" stroke-linecap="round"/>
<path d="M997,729.4 C1012,731 1024,737 1030,745" fill="none" stroke="#2a2840" stroke-width="1.9" stroke-dasharray="0.1,4.6" stroke-linecap="round"/>
<path d="M997,1012.4C1004.7,1012.4 1012.3,1010.6 1020,1008C1026.7,1005.8 1033.3,991.9 1040,985C1045.3,979.5 1050.7,973.6 1056,970C1064,964.7 1072,960.8 1080,958C1090,954.5 1100,951.6 1110,950C1119,948.6 1128,948 1137,947C1140,946.7 1143,946 1146,946L1146,1040C1137.3,1040 1128.7,1045.5 1120,1050C1111.7,1054.3 1103.3,1062.8 1095,1070C1087.3,1076.6 1079.7,1086.2 1072,1091.4C1066.7,1095 1061.3,1097.8 1056,1100.2C1046.2,1104.6 1036.5,1109 1026.7,1111.2C1016.8,1113.4 1006.9,1116 997,1116Z" fill="#8C839F" stroke="none"/>
<path d="M1056,970C1064,970 1072,960.8 1080,958C1090,954.5 1100,951.6 1110,950C1119,948.6 1128,948 1137,947C1140,946.7 1143,946 1146,946" fill="none" stroke="#2a2424" stroke-width="0.9" />
<path d="M997,1116C1006.9,1116 1016.8,1113.4 1026.7,1111.2C1036.5,1109 1046.2,1104.6 1056,1100.2C1061.3,1097.8 1066.7,1091.4 1072,1091.4" fill="none" stroke="#2a2424" stroke-width="0.9" />
<path d="M997,1059.4 C1040,1059.4 1090,985 1146,982" fill="none" stroke="#2a2424" stroke-width="0.9" />
<path d="M997,1066 C1040,1066 1090,993 1146,990" fill="none" stroke="#2a2424" stroke-width="0.9" />
<path d="M997,1072.6 C1040,1072.6 1090,1000 1146,997" fill="none" stroke="#2a2424" stroke-width="0.9" />
<path d="M997,1082.4 C1040,1082.4 1090,1012 1146,1009" fill="none" stroke="#2a2424" stroke-width="0.9" />
<path d="M997,1100.9 C1040,1100.9 1090,1024 1146,1021" fill="none" stroke="#2a2424" stroke-width="0.9" />
<path d="M1015,1058 C1030,1054 1045,1046 1055,1040 C1045,1048 1030,1056 1020,1060 Z" fill="#fff"/>
<path d="M1015,1079 C1030,1076 1045,1068 1057,1060 C1047,1069 1032,1078 1020,1081 Z" fill="#fff"/>
<path d="M997,480.5C999.5,480.7 1007.2,479.2 1012,481.5C1016.8,483.8 1022.3,484.2 1026,494C1029.7,503.8 1032,522.3 1034,540C1036,557.7 1037,580 1038,600C1039,620 1039.2,640 1040,660C1040.8,680 1042,700 1043,720C1044,740 1045.2,758.3 1046,780C1046.8,801.7 1047,826.7 1048,850C1049,873.3 1049.7,900.8 1052,920C1054.3,939.2 1057.3,951.7 1062,965C1066.7,978.3 1073,988.8 1080,1000C1087,1011.2 1100,1026.7 1104,1032" fill="none" stroke="#2a2424" stroke-width="7" />
<path d="M997,480.5C999.5,480.7 1007.2,479.2 1012,481.5C1016.8,483.8 1022.3,484.2 1026,494C1029.7,503.8 1032,522.3 1034,540C1036,557.7 1037,580 1038,600C1039,620 1039.2,640 1040,660C1040.8,680 1042,700 1043,720C1044,740 1045.2,758.3 1046,780C1046.8,801.7 1047,826.7 1048,850C1049,873.3 1049.7,900.8 1052,920C1054.3,939.2 1057.3,951.7 1062,965C1066.7,978.3 1073,988.8 1080,1000C1087,1011.2 1100,1026.7 1104,1032" fill="none" stroke="#A8A09C" stroke-width="5.2" />
<path d="M997,1111.5L1140,1111.5L1140,1115.8L997,1115.8Z" fill="#A8A09C" stroke="none"/>
<path d="M997,1111.5L1140,1111.5" fill="none" stroke="#2a2424" stroke-width="0.9" />
<path d="M997,1115.8L1140,1115.8" fill="none" stroke="#2a2424" stroke-width="0.9" />
<path d="M997,955.7C1009.3,955.7 1021.7,961.4 1034,966.7C1043.8,970.9 1053.6,980.3 1063.4,988.7C1073.2,997.1 1082.9,1010.6 1092.7,1018C1102.5,1025.4 1112.2,1033 1122,1035.7C1129.9,1037.9 1137.7,1040 1145.6,1040L1170,1040L1170,1112C1161.9,1112 1153.7,1111.2 1145.6,1110.5C1132.9,1109.4 1120.1,1106.8 1107.4,1103.2C1097.6,1100.4 1087.8,1095.3 1078,1088.5C1068.2,1081.7 1058.5,1065.2 1048.7,1054.7C1038.9,1044.2 1029.2,1032.5 1019.4,1025.4C1011.9,1020 1004.5,1012.4 997,1012.4Z" fill="#A8A09C" stroke="none"/>
<path d="M997,955.7C1009.3,955.7 1021.7,961.4 1034,966.7C1043.8,970.9 1053.6,980.3 1063.4,988.7C1073.2,997.1 1082.9,1010.6 1092.7,1018C1102.5,1025.4 1112.2,1033 1122,1035.7C1129.9,1037.9 1137.7,1040 1145.6,1040L1170,1040" fill="none" stroke="#2a2424" stroke-width="0.9" />
<path d="M997,1012.4C1004.5,1012.4 1011.9,1020 1019.4,1025.4C1029.2,1032.5 1038.9,1044.2 1048.7,1054.7C1058.5,1065.2 1068.2,1081.7 1078,1088.5C1087.8,1095.3 1097.6,1100.4 1107.4,1103.2C1120.1,1106.8 1132.9,1109.4 1145.6,1110.5C1153.7,1111.2 1161.9,1112 1170,1112" fill="none" stroke="#2a2424" stroke-width="0.9" />
<path d="M997,1061C1002.5,1061.5 1019.5,1061.5 1030,1064C1040.5,1066.5 1050,1071.8 1060,1076C1070,1080.2 1085,1086.8 1090,1089" fill="none" stroke="#2a2424" stroke-width="4.8" />
<path d="M997,1061C1002.5,1061.5 1019.5,1061.5 1030,1064C1040.5,1066.5 1050,1071.8 1060,1076C1070,1080.2 1085,1086.8 1090,1089" fill="none" stroke="#A8A09C" stroke-width="3" />
<path d="M997,1075C1004.2,1075.7 1026.2,1076.2 1040,1079C1053.8,1081.8 1066.7,1087.5 1080,1092C1093.3,1096.5 1109,1103 1120,1106C1131,1109 1141.7,1109.3 1146,1110" fill="none" stroke="#2a2424" stroke-width="4.8" />
<path d="M997,1075C1004.2,1075.7 1026.2,1076.2 1040,1079C1053.8,1081.8 1066.7,1087.5 1080,1092C1093.3,1096.5 1109,1103 1120,1106C1131,1109 1141.7,1109.3 1146,1110" fill="none" stroke="#A8A09C" stroke-width="3" />
<rect x="738.2" y="172" width="258.6" height="94.3" fill="#F0A47C"/>
<rect x="738.2" y="266.3" width="258.6" height="15" fill="#F0A47C"/>
<rect x="738.2" y="281.3" width="258.6" height="21.3" fill="#F0A47C"/>
<rect x="738.2" y="302.6" width="258.6" height="93.8" fill="#F8D6A9"/>
<rect x="738.2" y="396.4" width="258.6" height="53.2" fill="#F8D6A9"/>
<rect x="738.2" y="449.6" width="258.6" height="32.2" fill="#EE8C63"/>
<rect x="738.2" y="481.8" width="258.6" height="30" fill="#F5BE98"/>
<rect x="738.2" y="511.8" width="258.6" height="13.2" fill="#F5BE98"/>
<rect x="738.2" y="525" width="258.6" height="9.3" fill="#F5BE98"/>
<rect x="738.2" y="534.3" width="258.6" height="9.7" fill="#F5BE98"/>
<rect x="738.2" y="544" width="258.6" height="9" fill="#F5BE98"/>
<rect x="738.2" y="553" width="258.6" height="45.6" fill="#F5BE98"/>
<rect x="738.2" y="598.6" width="258.6" height="36" fill="#F5BE98"/>
<rect x="738.2" y="634.6" width="258.6" height="49" fill="#F5BE98"/>
<rect x="738.2" y="683.6" width="258.6" height="17.2" fill="#EE7C59"/>
<rect x="738.2" y="700.8" width="258.6" height="13" fill="#EE7C59"/>
<rect x="738.2" y="713.8" width="258.6" height="58.6" fill="#EE7C59"/>
<rect x="738.2" y="772.4" width="258.6" height="171.9" fill="#D1E8CC"/>
<rect x="738.2" y="944.3" width="258.6" height="11.3" fill="#BC93C7"/>
<rect x="738.2" y="955.6" width="258.6" height="56.8" fill="#BC93C7"/>
<rect x="738.2" y="1012.4" width="258.6" height="47" fill="#BC93C7"/>
<rect x="738.2" y="1059.4" width="258.6" height="13.2" fill="#BC93C7"/>
<rect x="738.2" y="1072.6" width="258.6" height="9.8" fill="#BC93C7"/>
<rect x="738.2" y="1082.4" width="258.6" height="18.5" fill="#DE7C8E"/>
<rect x="738.2" y="1100.9" width="258.6" height="15.1" fill="#DE7C8E"/>
<path d="M738.2,302.6H996.8" fill="none" stroke="#2a2424" stroke-width="0.9" />
<path d="M738.2,396.4H996.8" fill="none" stroke="#2a2424" stroke-width="0.9" />
<path d="M738.2,449.6H996.8" fill="none" stroke="#2a2424" stroke-width="0.9" />
<path d="M738.2,481.8H996.8" fill="none" stroke="#2a2424" stroke-width="0.9" />
<path d="M738.2,598.6H996.8" fill="none" stroke="#2a2424" stroke-width="0.9" />
<path d="M738.2,634.6H996.8" fill="none" stroke="#2a2424" stroke-width="0.9" />
<path d="M738.2,683.6H996.8" fill="none" stroke="#2a2424" stroke-width="0.9" />
<path d="M738.2,700.8H996.8" fill="none" stroke="#2a2424" stroke-width="0.9" />
<path d="M738.2,713.8H996.8" fill="none" stroke="#2a2424" stroke-width="0.9" />
<path d="M738.2,772.4H996.8" fill="none" stroke="#2a2424" stroke-width="0.9" />
<path d="M738.2,955.6H996.8" fill="none" stroke="#2a2424" stroke-width="0.9" />
<path d="M738.2,1012.4H996.8" fill="none" stroke="#2a2424" stroke-width="0.9" />
<path d="M738.2,1082.4H996.8" fill="none" stroke="#2a2424" stroke-width="0.9" />
<path d="M738.2,1100.9H996.8" fill="none" stroke="#2a2424" stroke-width="0.9" />
<path d="M738.2,1116H996.8" fill="none" stroke="#2a2424" stroke-width="0.9" />
<path d="M738,511.8H745" fill="none" stroke="#2a2424" stroke-width="0.9" />
<path d="M950.5,511.8H963" fill="none" stroke="#2a2424" stroke-width="0.9" />
<path d="M996,511.8H997" fill="none" stroke="#2a2424" stroke-width="0.9" />
<path d="M738,525H745" fill="none" stroke="#2a2424" stroke-width="0.9" />
<path d="M824,525H951" fill="none" stroke="#2a2424" stroke-width="0.9" />
<path d="M976,525H997" fill="none" stroke="#2a2424" stroke-width="0.9" />
<path d="M738,534.3H997" fill="none" stroke="#2a2424" stroke-width="0.9" />
<path d="M738,544H797" fill="none" stroke="#2a2424" stroke-width="0.9" />
<path d="M948,544H966" fill="none" stroke="#2a2424" stroke-width="0.9" />
<path d="M990,544H997" fill="none" stroke="#2a2424" stroke-width="0.9" />
<path d="M738,553H745" fill="none" stroke="#2a2424" stroke-width="0.9" />
<path d="M856,553H951" fill="none" stroke="#2a2424" stroke-width="0.9" />
<path d="M976,553H997" fill="none" stroke="#2a2424" stroke-width="0.9" />
<path d="M738,266.3H744" fill="none" stroke="#2a2424" stroke-width="0.9" />
<path d="M779,266.3H950" fill="none" stroke="#2a2424" stroke-width="0.9" />
<path d="M996,266.3H997" fill="none" stroke="#2a2424" stroke-width="0.9" />
<path d="M738,281.3H997" fill="none" stroke="#2a2424" stroke-width="0.9" />
<path d="M738,944.3H744" fill="none" stroke="#2a2424" stroke-width="0.9" />
<path d="M907,944.3H958" fill="none" stroke="#2a2424" stroke-width="0.9" />
<path d="M996,944.3H997" fill="none" stroke="#2a2424" stroke-width="0.9" />
<path d="M738,1059.4H745" fill="none" stroke="#2a2424" stroke-width="0.9" />
<path d="M852,1059.4H960" fill="none" stroke="#2a2424" stroke-width="0.9" />
<path d="M996,1059.4H997" fill="none" stroke="#2a2424" stroke-width="0.9" />
<path d="M738,1072.6H745" fill="none" stroke="#2a2424" stroke-width="0.9" />
<path d="M862,1072.6H960" fill="none" stroke="#2a2424" stroke-width="0.9" />
<path d="M996,1072.6H997" fill="none" stroke="#2a2424" stroke-width="0.9" />
<path d="M738,171.8 L997,171.8" fill="none" stroke="#2a2424" stroke-width="0.9" />
<text x="238" y="38.2" font-size="53.5" font-weight="normal" text-anchor="start" textLength="826" lengthAdjust="spacingAndGlyphs" >World Greenhouse gas emissions by sector</text>
<text x="137.2" y="154.6" font-size="29" font-weight="normal" text-anchor="start" textLength="85.5" lengthAdjust="spacingAndGlyphs" >Sector</text>
<text x="753.8" y="154.5" font-size="29" font-weight="normal" text-anchor="start" textLength="215.9" lengthAdjust="spacingAndGlyphs" >End Use/Activity</text>
<text x="1182.6" y="154.5" font-size="29" font-weight="normal" text-anchor="start" textLength="53.4" lengthAdjust="spacingAndGlyphs" >Gas</text>
<text x="137" y="240.5" font-size="25.8" font-weight="normal" text-anchor="start" textLength="140.7" lengthAdjust="spacingAndGlyphs" >Transportation</text>
<text x="343.3" y="240.5" font-size="25.8" font-weight="normal" text-anchor="start" textLength="61.4" lengthAdjust="spacingAndGlyphs" >13,5%</text>
<text x="137" y="443.5" font-size="25.8" font-weight="normal" text-anchor="start" textLength="170.2" lengthAdjust="spacingAndGlyphs" >Electricity &amp; Heat</text>
<text x="342.2" y="443.5" font-size="25.8" font-weight="normal" text-anchor="start" textLength="62.5" lengthAdjust="spacingAndGlyphs" >24,6%</text>
<text x="137" y="562.4" font-size="25.8" font-weight="normal" text-anchor="start" textLength="104.2" lengthAdjust="spacingAndGlyphs" >Other Fuel</text>
<text x="137" y="592.4" font-size="25.8" font-weight="normal" text-anchor="start" textLength="117.2" lengthAdjust="spacingAndGlyphs" >Combustion</text>
<text x="354.8" y="588.2" font-size="25.8" font-weight="normal" text-anchor="start" textLength="31" lengthAdjust="spacingAndGlyphs" >9%</text>
<text x="137" y="670.3" font-size="25.8" font-weight="normal" text-anchor="start" textLength="79" lengthAdjust="spacingAndGlyphs" >Industry</text>
<text x="343.9" y="681" font-size="25.8" font-weight="normal" text-anchor="start" textLength="60.8" lengthAdjust="spacingAndGlyphs" >10,4%</text>
<text x="137" y="744.3" font-size="25.8" font-weight="normal" text-anchor="start" textLength="184.7" lengthAdjust="spacingAndGlyphs" >Fugitive Emissions</text>
<text x="354.8" y="744.3" font-size="25.8" font-weight="normal" text-anchor="start" textLength="49.9" lengthAdjust="spacingAndGlyphs" >3,9%</text>
<text x="137" y="777.8" font-size="25.8" font-weight="normal" text-anchor="start" textLength="201" lengthAdjust="spacingAndGlyphs" >Industrial Processes</text>
<text x="354.8" y="777.8" font-size="25.8" font-weight="normal" text-anchor="start" textLength="49.9" lengthAdjust="spacingAndGlyphs" >3,4%</text>
<text x="137" y="868.3" font-size="25.8" font-weight="normal" text-anchor="start" textLength="179" lengthAdjust="spacingAndGlyphs" >Land Use Change</text>
<text x="343.9" y="868.3" font-size="25.8" font-weight="normal" text-anchor="start" textLength="60.8" lengthAdjust="spacingAndGlyphs" >18,2%</text>
<text x="137" y="1019.2" font-size="25.8" font-weight="normal" text-anchor="start" textLength="105.6" lengthAdjust="spacingAndGlyphs" >Agriculture</text>
<text x="343.9" y="1019.2" font-size="25.8" font-weight="normal" text-anchor="start" textLength="60.8" lengthAdjust="spacingAndGlyphs" >13,5%</text>
<text x="137" y="1108.3" font-size="25.8" font-weight="normal" text-anchor="start" textLength="61" lengthAdjust="spacingAndGlyphs" >Waste</text>
<text x="354.8" y="1108.3" font-size="25.8" font-weight="normal" text-anchor="start" textLength="49.9" lengthAdjust="spacingAndGlyphs" >3,6%</text>
<text x="0" y="0" font-size="25" font-weight="bold" text-anchor="middle" transform="translate(108.6,561.4) rotate(-90)">E</text>
<text x="0" y="0" font-size="25" font-weight="bold" text-anchor="middle" transform="translate(108.6,517.5) rotate(-90)">N</text>
<text x="0" y="0" font-size="25" font-weight="bold" text-anchor="middle" transform="translate(108.6,472.5) rotate(-90)">E</text>
<text x="0" y="0" font-size="25" font-weight="bold" text-anchor="middle" transform="translate(108.6,426.4) rotate(-90)">R</text>
<text x="0" y="0" font-size="25" font-weight="bold" text-anchor="middle" transform="translate(108.6,380.4) rotate(-90)">G</text>
<text x="0" y="0" font-size="25" font-weight="bold" text-anchor="middle" transform="translate(108.6,332) rotate(-90)">Y</text>
<rect x="97.6" y="175.9" width="4.2" height="9.1" fill="#1e1a1a"/>
<rect x="97.6" y="194.1" width="4.2" height="9.1" fill="#1e1a1a"/>
<rect x="97.6" y="212.3" width="4.2" height="9.1" fill="#1e1a1a"/>
<rect x="97.6" y="230.5" width="4.2" height="9.1" fill="#1e1a1a"/>
<rect x="97.6" y="248.7" width="4.2" height="9.1" fill="#1e1a1a"/>
<rect x="97.6" y="266.9" width="4.2" height="9.1" fill="#1e1a1a"/>
<rect x="97.6" y="285.1" width="4.2" height="9.1" fill="#1e1a1a"/>
<rect x="97.6" y="303.3" width="4.2" height="9.1" fill="#1e1a1a"/>
<rect x="97.6" y="597.5" width="4.2" height="9.1" fill="#1e1a1a"/>
<rect x="97.6" y="616.1" width="4.2" height="9.1" fill="#1e1a1a"/>
<rect x="97.6" y="634.7" width="4.2" height="9.1" fill="#1e1a1a"/>
<rect x="97.6" y="653.3" width="4.2" height="9.1" fill="#1e1a1a"/>
<rect x="97.6" y="671.9" width="4.2" height="9.1" fill="#1e1a1a"/>
<rect x="97.6" y="690.5" width="4.2" height="9.1" fill="#1e1a1a"/>
<rect x="97.6" y="709.1" width="4.2" height="9.1" fill="#1e1a1a"/>
<rect x="97.6" y="727.7" width="4.2" height="9.1" fill="#1e1a1a"/>
<rect x="97.6" y="746.3" width="4.2" height="5.1" fill="#1e1a1a"/>
<text x="746.8" y="225.4" font-size="19.8" font-weight="normal" text-anchor="start" textLength="43.5" lengthAdjust="spacingAndGlyphs" >Road</text>
<text x="953.1" y="225.4" font-size="19.8" font-weight="normal" text-anchor="start" textLength="41.2" lengthAdjust="spacingAndGlyphs" >9,9%</text>
<text x="746.8" y="278.6" font-size="19.8" font-weight="normal" text-anchor="start" textLength="22.9" lengthAdjust="spacingAndGlyphs" >Air</text>
<text x="956.3" y="278.6" font-size="18" font-weight="normal" text-anchor="start" textLength="36.9" lengthAdjust="spacingAndGlyphs" >1,6%</text>
<text x="746.8" y="298.3" font-size="17" font-weight="normal" text-anchor="start" textLength="71.3" lengthAdjust="spacingAndGlyphs" >Rail, Ship</text>
<text x="955.7" y="298.3" font-size="17" font-weight="normal" text-anchor="start" textLength="37.5" lengthAdjust="spacingAndGlyphs" >2,3%</text>
<text x="746.8" y="317.6" font-size="17" font-weight="normal" text-anchor="start" textLength="117.4" lengthAdjust="spacingAndGlyphs" >&amp; Other Transport</text>
<text x="746.8" y="355.3" font-size="19.8" font-weight="normal" text-anchor="start" textLength="172.9" lengthAdjust="spacingAndGlyphs" >Residential Buildings</text>
<text x="953.1" y="355.3" font-size="19.8" font-weight="normal" text-anchor="start" textLength="41.2" lengthAdjust="spacingAndGlyphs" >9,9%</text>
<text x="746.8" y="429.2" font-size="19.8" font-weight="normal" text-anchor="start" textLength="180" lengthAdjust="spacingAndGlyphs" >Commercial Buildings</text>
<text x="953.1" y="429.2" font-size="19.8" font-weight="normal" text-anchor="start" textLength="41.2" lengthAdjust="spacingAndGlyphs" >5,4%</text>
<text x="746.8" y="464" font-size="15.5" font-weight="normal" text-anchor="start" textLength="78.2" lengthAdjust="spacingAndGlyphs" >Unallocated</text>
<text x="746.8" y="478.6" font-size="15.5" font-weight="normal" text-anchor="start" textLength="112.5" lengthAdjust="spacingAndGlyphs" >Fuel Combustion</text>
<text x="953.1" y="471.7" font-size="19.8" font-weight="normal" text-anchor="start" textLength="41.2" lengthAdjust="spacingAndGlyphs" >3,5%</text>
<text x="745.7" y="498.3" font-size="15.5" font-weight="normal" text-anchor="start" textLength="77.2" lengthAdjust="spacingAndGlyphs" >Iron &amp; Steel</text>
<text x="955.3" y="498.3" font-size="15.5" font-weight="normal" text-anchor="start" textLength="32.5" lengthAdjust="spacingAndGlyphs" >3,2%</text>
<text x="745.7" y="516.5" font-size="15.5" font-weight="normal" text-anchor="start" textLength="204.6" lengthAdjust="spacingAndGlyphs" >Aluminium/Non-Ferrous Metals</text>
<text x="963.2" y="516.5" font-size="15.5" font-weight="normal" text-anchor="start" textLength="32.1" lengthAdjust="spacingAndGlyphs" >1,4%</text>
<text x="745.7" y="530.5" font-size="15.5" font-weight="normal" text-anchor="start" textLength="68.2" lengthAdjust="spacingAndGlyphs" >Machinery</text>
<text x="953.6" y="530.5" font-size="15.5" font-weight="normal" text-anchor="start" textLength="20.4" lengthAdjust="spacingAndGlyphs" >1%</text>
<text x="799.7" y="546.7" font-size="15.5" font-weight="normal" text-anchor="start" textLength="145.3" lengthAdjust="spacingAndGlyphs" >Pulp, Paper &amp; Printing</text>
<text x="969.6" y="546.7" font-size="15.5" font-weight="normal" text-anchor="start" textLength="19.3" lengthAdjust="spacingAndGlyphs" >1%</text>
<text x="745.7" y="561" font-size="15.5" font-weight="normal" text-anchor="start" textLength="106.1" lengthAdjust="spacingAndGlyphs" >Food &amp; Tobacco</text>
<text x="953.6" y="561" font-size="15.5" font-weight="normal" text-anchor="start" textLength="20.4" lengthAdjust="spacingAndGlyphs" >1%</text>
<text x="746.8" y="586.3" font-size="19.8" font-weight="normal" text-anchor="start" textLength="86.3" lengthAdjust="spacingAndGlyphs" >Chemicals</text>
<text x="955.3" y="586.3" font-size="19.8" font-weight="normal" text-anchor="start" textLength="37.9" lengthAdjust="spacingAndGlyphs" >4,8%</text>
<text x="746.8" y="622.1" font-size="19.8" font-weight="normal" text-anchor="start" textLength="65.3" lengthAdjust="spacingAndGlyphs" >Cement</text>
<text x="953.1" y="622.1" font-size="19.8" font-weight="normal" text-anchor="start" textLength="41.2" lengthAdjust="spacingAndGlyphs" >3,8%</text>
<text x="746.8" y="666.1" font-size="18.5" font-weight="normal" text-anchor="start" textLength="107.1" lengthAdjust="spacingAndGlyphs" >Other Industry</text>
<text x="953.1" y="666.1" font-size="19.8" font-weight="normal" text-anchor="start" textLength="41.2" lengthAdjust="spacingAndGlyphs" >5,0%</text>
<text x="746.8" y="697.1" font-size="15.5" font-weight="normal" text-anchor="start" textLength="80.8" lengthAdjust="spacingAndGlyphs" >T&amp;D Losses</text>
<text x="963.2" y="697.1" font-size="15.5" font-weight="normal" text-anchor="start" textLength="32.1" lengthAdjust="spacingAndGlyphs" >1,9%</text>
<text x="746.8" y="711" font-size="15.5" font-weight="normal" text-anchor="start" textLength="78.2" lengthAdjust="spacingAndGlyphs" >Coal Mining</text>
<text x="963.2" y="711" font-size="15.5" font-weight="normal" text-anchor="start" textLength="32.1" lengthAdjust="spacingAndGlyphs" >1,4%</text>
<text x="746.8" y="739.6" font-size="19.8" font-weight="normal" text-anchor="start" textLength="155.3" lengthAdjust="spacingAndGlyphs" >Oil/Gas Extraction,</text>
<text x="953.1" y="739.6" font-size="19.8" font-weight="normal" text-anchor="start" textLength="41.2" lengthAdjust="spacingAndGlyphs" >6,3%</text>
<text x="746.8" y="764.3" font-size="19.8" font-weight="normal" text-anchor="start" textLength="183.2" lengthAdjust="spacingAndGlyphs" >Refining &amp; Processing</text>
<text x="746.8" y="817.8" font-size="19.8" font-weight="normal" text-anchor="start" textLength="109.2" lengthAdjust="spacingAndGlyphs" >Deforestation</text>
<text x="943.9" y="817.8" font-size="19.8" font-weight="normal" text-anchor="start" textLength="50.4" lengthAdjust="spacingAndGlyphs" >18,3%</text>
<text x="746.8" y="840.3" font-size="19.8" font-weight="normal" text-anchor="start" textLength="103.2" lengthAdjust="spacingAndGlyphs" >Afforestation</text>
<text x="946.7" y="840.3" font-size="19.8" font-weight="normal" text-anchor="start" textLength="47.6" lengthAdjust="spacingAndGlyphs" >-1,5%</text>
<text x="746.8" y="863.3" font-size="19.8" font-weight="normal" text-anchor="start" textLength="109.2" lengthAdjust="spacingAndGlyphs" >Reforestation</text>
<text x="946.7" y="863.3" font-size="19.8" font-weight="normal" text-anchor="start" textLength="47.6" lengthAdjust="spacingAndGlyphs" >-0,5%</text>
<text x="746.8" y="885.3" font-size="19.8" font-weight="normal" text-anchor="start" textLength="178.5" lengthAdjust="spacingAndGlyphs" >Harvest/Management</text>
<text x="953.1" y="885.3" font-size="19.8" font-weight="normal" text-anchor="start" textLength="41.2" lengthAdjust="spacingAndGlyphs" >2,5%</text>
<text x="746.8" y="907.8" font-size="19.8" font-weight="normal" text-anchor="start" textLength="46.1" lengthAdjust="spacingAndGlyphs" >Other</text>
<text x="946.7" y="907.8" font-size="19.8" font-weight="normal" text-anchor="start" textLength="47.6" lengthAdjust="spacingAndGlyphs" >-0,6%</text>
<text x="746.8" y="953.9" font-size="15.5" font-weight="normal" text-anchor="start" textLength="156.4" lengthAdjust="spacingAndGlyphs" >Agricultural Energy Use</text>
<text x="963.2" y="953.9" font-size="15.5" font-weight="normal" text-anchor="start" textLength="32.1" lengthAdjust="spacingAndGlyphs" >1,4%</text>
<text x="746.8" y="988.1" font-size="19.8" font-weight="normal" text-anchor="start" textLength="134.6" lengthAdjust="spacingAndGlyphs" >Agriculture Soils</text>
<text x="961.1" y="988.1" font-size="19.8" font-weight="normal" text-anchor="start" textLength="26.2" lengthAdjust="spacingAndGlyphs" >6%</text>
<text x="746.8" y="1041.1" font-size="19.8" font-weight="normal" text-anchor="start" textLength="162.9" lengthAdjust="spacingAndGlyphs" >Livestock &amp; Manure</text>
<text x="952.7" y="1041.1" font-size="19.8" font-weight="normal" text-anchor="start" textLength="41.5" lengthAdjust="spacingAndGlyphs" >5,1%</text>
<text x="746.8" y="1064.8" font-size="15.5" font-weight="normal" text-anchor="start" textLength="102.8" lengthAdjust="spacingAndGlyphs" >Rice Cultivation</text>
<text x="963.2" y="1064.8" font-size="15.5" font-weight="normal" text-anchor="start" textLength="31" lengthAdjust="spacingAndGlyphs" >1,5%</text>
<text x="746.8" y="1080.5" font-size="15.5" font-weight="normal" text-anchor="start" textLength="112.6" lengthAdjust="spacingAndGlyphs" >Other Agriculture</text>
<text x="963.2" y="1080.5" font-size="15.5" font-weight="normal" text-anchor="start" textLength="31" lengthAdjust="spacingAndGlyphs" >0,9%</text>
<text x="746.8" y="1096.7" font-size="15.5" font-weight="normal" text-anchor="start" textLength="53.9" lengthAdjust="spacingAndGlyphs" >Landfills</text>
<text x="969" y="1096.7" font-size="15.5" font-weight="normal" text-anchor="start" textLength="21.4" lengthAdjust="spacingAndGlyphs" >2%</text>
<text x="746.8" y="1113.9" font-size="15.5" font-weight="normal" text-anchor="start" textLength="168.2" lengthAdjust="spacingAndGlyphs" >Wastewater, Other Waste</text>
<text x="963.2" y="1113.9" font-size="15.5" font-weight="normal" text-anchor="start" textLength="31" lengthAdjust="spacingAndGlyphs" >1,6%</text>
<text x="1189.5" y="520.7" font-size="29" font-weight="normal" text-anchor="start" textLength="178.5" lengthAdjust="spacingAndGlyphs" >Carbon Dioxide</text>
<text x="1205.9" y="576" font-size="28" font-weight="normal" text-anchor="start" textLength="47.1" lengthAdjust="spacingAndGlyphs" >(CO</text>
<text x="1253" y="583.6" font-size="19" font-weight="normal" text-anchor="start" textLength="9" lengthAdjust="spacingAndGlyphs" >2</text>
<text x="1262" y="576" font-size="28" font-weight="normal" text-anchor="start" textLength="7.4" lengthAdjust="spacingAndGlyphs" >)</text>
<text x="1295.3" y="579.4" font-size="28" font-weight="normal" text-anchor="start" textLength="49.7" lengthAdjust="spacingAndGlyphs" >77%</text>
<text x="1355" y="856.8" font-size="18.5" font-weight="normal" text-anchor="start" textLength="51.4" lengthAdjust="spacingAndGlyphs" >HFCs,</text>
<text x="1355" y="881.4" font-size="18.5" font-weight="normal" text-anchor="start" textLength="50" lengthAdjust="spacingAndGlyphs" >PFCs,</text>
<text x="1355" y="906" font-size="18.5" font-weight="normal" text-anchor="start" textLength="22" lengthAdjust="spacingAndGlyphs" >SF</text>
<text x="1377" y="910.5" font-size="13" font-weight="normal" text-anchor="start" textLength="9" lengthAdjust="spacingAndGlyphs" >6</text>
<text x="1362.5" y="936" font-size="18.5" font-weight="normal" text-anchor="start" textLength="21.4" lengthAdjust="spacingAndGlyphs" >1%</text>
<text x="1212.5" y="970.3" font-size="28" font-weight="normal" text-anchor="start" textLength="99.6" lengthAdjust="spacingAndGlyphs" >Methane</text>
<text x="1212.5" y="1004.6" font-size="21" font-weight="normal" text-anchor="start" textLength="34.5" lengthAdjust="spacingAndGlyphs" >(CH</text>
<text x="1247" y="1009.5" font-size="14" font-weight="normal" text-anchor="start" textLength="7" lengthAdjust="spacingAndGlyphs" >4</text>
<text x="1254" y="1004.6" font-size="21" font-weight="normal" text-anchor="start" textLength="6.7" lengthAdjust="spacingAndGlyphs" >)</text>
<text x="1282.1" y="1004.6" font-size="21" font-weight="normal" text-anchor="start" textLength="36.4" lengthAdjust="spacingAndGlyphs" >14%</text>
<text x="1173.8" y="1094.6" font-size="26.5" font-weight="normal" text-anchor="start" textLength="156.5" lengthAdjust="spacingAndGlyphs" >Nitrous Oxide</text>
<text x="1244.6" y="1116" font-size="17.5" font-weight="normal" text-anchor="start" textLength="17.4" lengthAdjust="spacingAndGlyphs" >(N</text>
<text x="1262" y="1120" font-size="12.5" font-weight="normal" text-anchor="start" textLength="7" lengthAdjust="spacingAndGlyphs" >2</text>
<text x="1269" y="1116" font-size="17.5" font-weight="normal" text-anchor="start" textLength="18.5" lengthAdjust="spacingAndGlyphs" >O)</text>
<text x="1301.4" y="1116" font-size="17.5" font-weight="normal" text-anchor="start" textLength="24" lengthAdjust="spacingAndGlyphs" >8%</text>
<text x="93.9" y="1216.8" font-size="23.5" font-weight="normal" text-anchor="start" textLength="525.1" lengthAdjust="spacingAndGlyphs" >All data is for 2000. All calculations are based on CO</text>
<text x="619.5" y="1222.5" font-size="16" font-weight="normal" text-anchor="start" textLength="8" lengthAdjust="spacingAndGlyphs" >2</text>
<text x="635" y="1216.8" font-size="23.5" font-weight="normal" text-anchor="start" textLength="585" lengthAdjust="spacingAndGlyphs" >equivalents, using 100-year global warming potentials from</text>
<text x="93.9" y="1246.2" font-size="23.5" font-weight="normal" text-anchor="start" textLength="654.1" lengthAdjust="spacingAndGlyphs" >the IPCC (1996), based on a total global estimate of 41 755 MtCO</text>
<text x="747" y="1251.9" font-size="16" font-weight="normal" text-anchor="start" textLength="8" lengthAdjust="spacingAndGlyphs" >2</text>
<text x="766" y="1246.2" font-size="23.5" font-weight="normal" text-anchor="start" textLength="426.5" lengthAdjust="spacingAndGlyphs" >equivalent. Land use change includes both</text>
<text x="93.9" y="1276.2" font-size="23.5" font-weight="normal" text-anchor="start" textLength="1058.1" lengthAdjust="spacingAndGlyphs" >emissions and absorptions. Dotted lines represent flows of less than 0.1% percent of total GHG emissions.</text>
<text x="93.9" y="1335.6" font-size="23.5" font-weight="normal" text-anchor="start" textLength="1121.1" lengthAdjust="spacingAndGlyphs" >Source: World Resources Institute, Climate Analysis Indicator Tool (CAIT), Navigating the Numbers: Greenhouse</text>
<text x="93.9" y="1365" font-size="23.5" font-weight="normal" text-anchor="start" textLength="1106.1" lengthAdjust="spacingAndGlyphs" >Gas Data and International Climate Policy, December 2005; Intergovernmental Panel on Climate Change, 1996</text>
<text x="93.9" y="1394.3" font-size="23.5" font-weight="normal" text-anchor="start" textLength="152.9" lengthAdjust="spacingAndGlyphs" >(data for 2000).</text>
</svg>
</body></html>
